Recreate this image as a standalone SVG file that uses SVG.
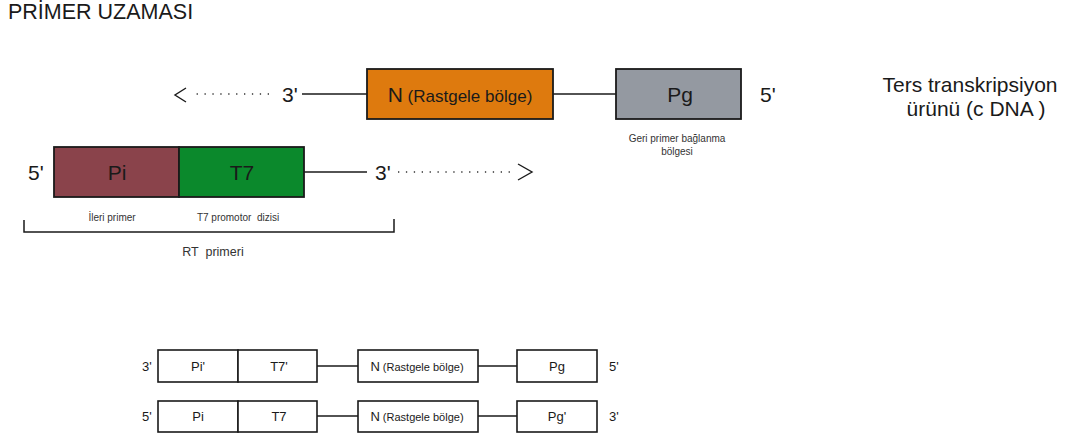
<svg xmlns="http://www.w3.org/2000/svg" width="1069" height="436" viewBox="0 0 1069 436">
<style>
text{font-family:"Liberation Sans",Arial,sans-serif;fill:#1a1a1a}
.big{font-size:21px}
.mid{font-size:17px}
.sm{font-size:10px;fill:#333}
.bt{font-size:13px}
.bs{font-size:11px}
.box{stroke:#1a1a1a;stroke-width:1.8}
.wbox{fill:#fff;stroke:#1a1a1a;stroke-width:1.6}
.ln{stroke:#1a1a1a;stroke-width:1.5;fill:none}
.dot{stroke:#333;stroke-width:1.3;stroke-dasharray:1.3 6.6;fill:none}
.arr{stroke:#1a1a1a;stroke-width:1.4;fill:none}
</style>
<rect width="1069" height="436" fill="#fff"/>
<text x="8" y="19" style="font-size:21.5px">PRİMER UZAMASI</text>

<g id="connectors">
  <line class="ln" x1="302" y1="94" x2="367" y2="94"/>
  <line class="ln" x1="553" y1="94" x2="616" y2="94"/>
  <line class="dot" x1="269" y1="94" x2="190" y2="94"/>
  <polyline class="arr" points="186,88 175,95 186,102"/>
  <line class="ln" x1="304" y1="172" x2="367" y2="172"/>
  <line class="dot" x1="398" y1="172" x2="514" y2="172"/>
  <polyline class="arr" points="518,164 532,172 518,180"/>
  <path class="ln" d="M24 220 V232 H394 V219"/>
  <line class="ln" x1="317" y1="366" x2="358" y2="366"/>
  <line class="ln" x1="478" y1="366" x2="517" y2="366"/>
  <line class="ln" x1="317" y1="416" x2="358" y2="416"/>
  <line class="ln" x1="478" y1="416" x2="517" y2="416"/>
</g>

<g id="top-strand">
  <text class="big" x="282" y="102">3'</text>
  <text class="big" x="760" y="102">5'</text>
</g>
<g id="node-N">
  <rect class="box" x="367" y="69" width="186" height="50" fill="#DE7A0E"/>
  <text x="460" y="102" text-anchor="middle"><tspan class="big">N</tspan><tspan class="mid"> (Rastgele bölge)</tspan></text>
</g>
<g id="node-Pg">
  <rect class="box" x="616" y="69" width="125" height="50" fill="#9499A1"/>
  <text class="big" x="680" y="102" text-anchor="middle">Pg</text>
  <text class="sm" x="677" y="142" text-anchor="middle">Geri primer bağlanma</text>
  <text class="sm" x="677" y="155" text-anchor="middle">bölgesi</text>
</g>
<g id="label-cdna">
  <text x="970" y="92" text-anchor="middle" style="font-size:21px">Ters transkripsiyon</text>
  <text x="976" y="116" text-anchor="middle" style="font-size:21px">ürünü (c DNA )</text>
</g>

<g id="node-Pi">
  <text class="big" x="28" y="180">5'</text>
  <rect class="box" x="54" y="147" width="125" height="50" fill="#8A434B"/>
  <text class="big" x="117" y="180" text-anchor="middle">Pi</text>
  <text class="sm" x="112" y="221" text-anchor="middle">İleri primer</text>
</g>
<g id="node-T7">
  <rect class="box" x="179" y="147" width="125" height="50" fill="#0B892C"/>
  <text class="big" x="242" y="180" text-anchor="middle">T7</text>
  <text class="sm" x="238" y="221" text-anchor="middle" xml:space="preserve">T7 promotor  dizisi</text>
</g>
<g id="label-rt">
  <text x="213" y="256" text-anchor="middle" xml:space="preserve" style="font-size:12.5px;fill:#333">RT  primeri</text>
  <text class="big" x="375" y="180">3'</text>
</g>

<g id="row1">
  <text class="bt" x="142" y="371">3'</text>
  <rect class="wbox" x="158" y="350" width="80" height="32"/>
  <text class="bt" x="198" y="371" text-anchor="middle">Pi'</text>
  <rect class="wbox" x="238" y="350" width="79" height="32"/>
  <text class="bt" x="279" y="371" text-anchor="middle">T7'</text>
  <rect class="wbox" x="358" y="350" width="120" height="32"/>
  <text x="417" y="371" text-anchor="middle"><tspan class="bt">N</tspan><tspan class="bs"> (Rastgele bölge)</tspan></text>
  <rect class="wbox" x="517" y="350" width="80" height="32"/>
  <text class="bt" x="557" y="371" text-anchor="middle">Pg</text>
  <text class="bt" x="609" y="371">5'</text>
</g>
<g id="row2">
  <text class="bt" x="142" y="421">5'</text>
  <rect class="wbox" x="158" y="401" width="80" height="31"/>
  <text class="bt" x="198" y="421" text-anchor="middle">Pi</text>
  <rect class="wbox" x="238" y="401" width="79" height="31"/>
  <text class="bt" x="279" y="421" text-anchor="middle">T7</text>
  <rect class="wbox" x="358" y="401" width="120" height="31"/>
  <text x="417" y="421" text-anchor="middle"><tspan class="bt">N</tspan><tspan class="bs"> (Rastgele bölge)</tspan></text>
  <rect class="wbox" x="517" y="401" width="80" height="31"/>
  <text class="bt" x="557" y="421" text-anchor="middle">Pg'</text>
  <text class="bt" x="609" y="421">3'</text>
</g>
</svg>
